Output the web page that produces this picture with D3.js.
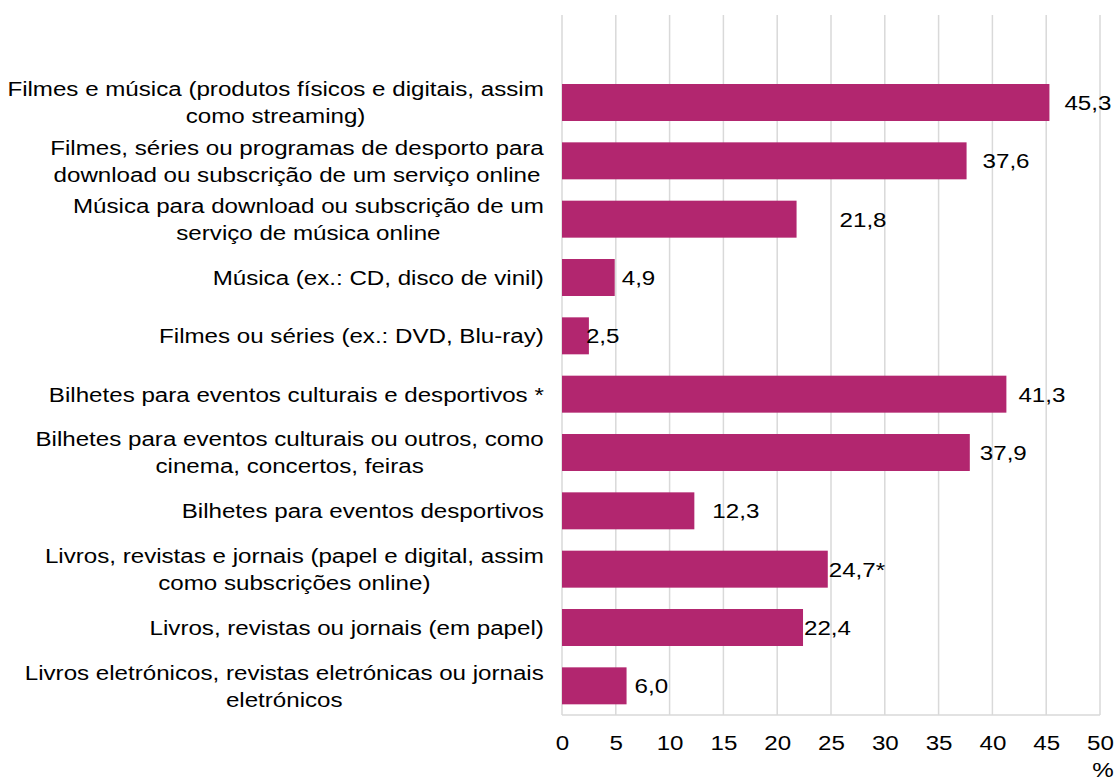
<!DOCTYPE html>
<meta charset="utf-8">
<title>Compras online - bens culturais</title>
<style>
body { margin: 0; background: #fff; }
text { font-family: "Liberation Sans", Arial, sans-serif; fill: #000; }
</style>

<script src="https://d3js.org/d3.v7.min.js"></script>

<div id="chart"></div>

<script>

// categories (each entry = lines of the label)
var categories = [
  ["Filmes e música (produtos físicos e digitais, assim", "como streaming)"],
  ["Filmes, séries ou programas de desporto para", "download ou subscrição de um serviço online"],
  ["Música para download ou subscrição de um", "serviço de música online"],
  ["Música (ex.: CD, disco de vinil)"],
  ["Filmes ou séries (ex.: DVD, Blu-ray)"],
  ["Bilhetes para eventos culturais e desportivos *"],
  ["Bilhetes para eventos culturais ou outros, como", "cinema, concertos, feiras"],
  ["Bilhetes para eventos desportivos"],
  ["Livros, revistas e jornais (papel e digital, assim", "como subscrições online)"],
  ["Livros, revistas ou jornais (em papel)"],
  ["Livros eletrónicos, revistas eletrónicas ou jornais", "eletrónicos"]
]
var values = [45.3, 37.6, 21.8, 4.9, 2.5, 41.3, 37.9, 12.3, 24.7, 22.4, 6.0]
var valueLabels = ["45,3", "37,6", "21,8", "4,9", "2,5", "41,3", "37,9", "12,3", "24,7*", "22,4", "6,0"]
var xTicks = [0, 5, 10, 15, 20, 25, 30, 35, 40, 45, 50]

// label nudges (px) -- labels were hand-placed in the original
var labelDx = [15, 16, 43, 7, -3, 12, 10, 18, 1, 1, 8]

var W = 1118, H = 782
var plot = {left: 562, right: 1100, top: 15, bottom: 715}
var step = (plot.bottom - plot.top) / 12   // first slot is left empty
var fs = 21, stretch = 1.15               // the original text is a bit wide

var svg = d3.select("#chart").append("svg")
  .attr("width", W).attr("height", H)

var x = d3.scaleLinear().domain([0, 50]).range([plot.left, plot.right])
var y = d3.scaleBand()
  .domain(d3.range(categories.length))
  .range([plot.top + step, plot.bottom])
  .paddingInner(0.366)
  .paddingOuter(0.183)

// gridlines
svg.append("g")
  .selectAll("line")
  .data(xTicks).enter()
  .append("line")
    .attr("x1", function(d) { return x(d) }).attr("x2", function(d) { return x(d) })
    .attr("y1", plot.top).attr("y2", plot.bottom)
    .attr("stroke", "#d9d9d9").attr("stroke-width", 1.5)

// bottom axis line
svg.append("line")
  .attr("x1", plot.left).attr("x2", plot.right)
  .attr("y1", plot.bottom).attr("y2", plot.bottom)
  .attr("stroke", "#d9d9d9").attr("stroke-width", 1.5)

// x tick labels
var xAxis = svg.append("g")
  .attr("transform", "translate(0," + plot.bottom + ")")
  .call(d3.axisBottom(x).tickValues(xTicks).tickSize(0).tickPadding(20))
xAxis.select(".domain").remove()
xAxis.selectAll("text").attr("font-size", fs).attr("fill", "#000")
  .attr("transform", "scale(" + stretch + ",1)")
  .style("font-family", "'Liberation Sans', Arial, sans-serif")

svg.append("text")
  .attr("transform", "translate(" + (plot.right + 3) + ",777) scale(" + stretch + ",1)")
  .attr("text-anchor", "middle").attr("font-size", fs)
  .text("%")

// bars
svg.append("g")
  .selectAll("rect")
  .data(values).enter()
  .append("rect")
    .attr("x", x(0))
    .attr("y", function(d, i) { return y(i) })
    .attr("width", function(d) { return x(d) - x(0) })
    .attr("height", y.bandwidth())
    .attr("fill", "#b2266f")

// value labels
svg.append("g")
  .selectAll("text")
  .data(values).enter()
  .append("text")
    .attr("transform", function(d, i) {
      return "translate(" + (x(d) + labelDx[i]) + "," + (y(i) + y.bandwidth() / 2) + ") scale(" + stretch + ",1)"
    })
    .attr("dy", "0.35em")
    .attr("font-size", fs)
    .text(function(d, i) { return valueLabels[i] })

// category labels: block right-aligned, lines centered inside block
var labelRight = 544, lineH = 27
var catG = svg.append("g")
categories.forEach(function(lines, i) {
  var cy = y(i) + y.bandwidth() / 2
  var gs = lines.map(function(l, j) {
    var g = catG.append("g")
    g.append("text")
      .attr("font-size", fs)
      .attr("text-anchor", "middle")
      .attr("dy", "0.35em")
      .text(l)
    return {g: g, y: cy + (j - (lines.length - 1) / 2) * lineH}
  })
  var maxW = d3.max(gs, function(o) { return o.g.select("text").node().getComputedTextLength() }) * stretch
  gs.forEach(function(o) {
    o.g.attr("transform", "translate(" + (labelRight - maxW / 2) + "," + o.y + ") scale(" + stretch + ",1)")
  })
})

</script>
